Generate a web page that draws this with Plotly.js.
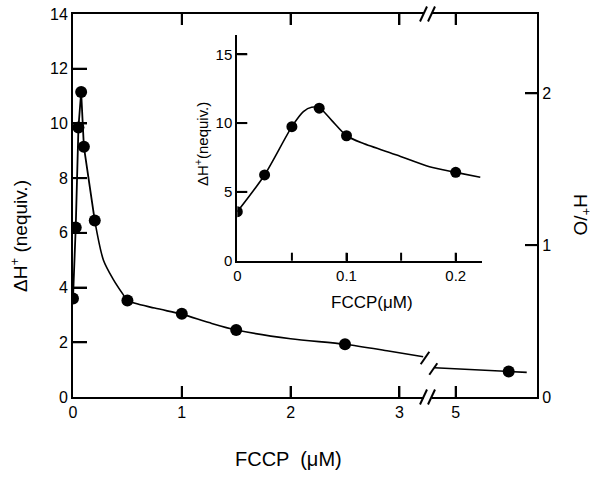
<!DOCTYPE html>
<html><head><meta charset="utf-8">
<script src="https://cdn.plot.ly/plotly-3.0.1.min.js"></script>
<style>html,body{margin:0;padding:0;background:#fff}#chart{width:593px;height:478px}</style>
</head><body><div id="chart"></div>
<script>
// ---- data ----
const fccp     = [0, 0.025, 0.05, 0.075, 0.1, 0.2, 0.5, 1.0, 1.5, 2.5];
const dH       = [3.6, 6.2, 9.85, 11.15, 9.15, 6.45, 3.53, 3.04, 2.45, 1.93];
const fccpHigh = [5.5];
const dHHigh   = [0.93];
// hand-drawn curve of the main panel
const steepX = [0, 0.025, 0.05, 0.075, 0.1, 0.2];
const steepY = [3.6, 6.2, 9.85, 11.15, 9.15, 6.45];
const tailX  = [0.2, 0.28, 0.37, 0.46, 0.5, 0.75, 1.0, 1.25, 1.5, 2.0, 2.5, 2.9, 3.22];
const tailY  = [6.45, 5.0, 4.3, 3.75, 3.53, 3.25, 3.03, 2.72, 2.45, 2.13, 1.93, 1.68, 1.47];
const highX  = [4.8, 5.5, 5.67];
const highY  = [1.07, 0.93, 0.9];
// inset
const insetX = [0, 0.025, 0.05, 0.075, 0.1, 0.2];
const insetY = [3.56, 6.23, 9.74, 11.08, 9.08, 6.42];
const insetCurveX = [0, 0.025, 0.05, 0.0605, 0.068, 0.076, 0.0864, 0.1, 0.115, 0.146, 0.176, 0.2, 0.2225];
const insetCurveY = [3.56, 6.23, 9.74, 10.83, 11.15, 11.05, 10.2, 9.08, 8.53, 7.68, 6.83, 6.42, 6.06];
// ticks
const mainXTicks = [0, 1, 2, 3];
const highXTicks = [5];
const mainYTicks = [0, 2, 4, 6, 8, 10, 12, 14];
const ratioTicks = [0, 1, 2];
const insetXTicks = [0, 0.1, 0.2];
const insetXMinor = [0.05, 0.15];
const insetYTicks = [0, 5, 10, 15];

// ---- layout geometry ----
const W = 593, H = 478, L = 73, R = 56, T = 14, B = 81;
const pw = W - L - R, ph = H - T - B;
const px = v => (v - L) / pw;
const py = v => (H - B - v) / ph;

const FONT = 'Liberation Sans, Arial, sans-serif';
const black = '#000000';

const traces = [
  {x: steepX, y: steepY, xaxis: 'x', yaxis: 'y', mode: 'lines', line: {color: black, width: 1.8}},
  {x: tailX, y: tailY, xaxis: 'x', yaxis: 'y', mode: 'lines', line: {color: black, width: 1.6, shape: 'spline', smoothing: 0.8}},
  {x: fccp, y: dH, xaxis: 'x', yaxis: 'y', mode: 'markers', marker: {color: black, size: 12}},
  {x: highX, y: highY, xaxis: 'x2', yaxis: 'y', mode: 'lines', line: {color: black, width: 1.6}},
  {x: fccpHigh, y: dHHigh, xaxis: 'x2', yaxis: 'y', mode: 'markers', marker: {color: black, size: 12}},
  {x: [], y: [], xaxis: 'x2', yaxis: 'y2', mode: 'markers'},
  {x: insetCurveX, y: insetCurveY, xaxis: 'x3', yaxis: 'y3', mode: 'lines', line: {color: black, width: 1.6, shape: 'spline', smoothing: 0.7}},
  {x: insetX, y: insetY, xaxis: 'x3', yaxis: 'y3', mode: 'markers', marker: {color: black, size: 11}}
];

function ax(extra) {
  return Object.assign({showgrid: false, zeroline: false, showline: true, linecolor: black, linewidth: 2,
    ticks: 'inside', tickcolor: black, tickwidth: 2,
    tickfont: {family: FONT, size: 16, color: black}}, extra);
}
const smallTick = {family: FONT, size: 15, color: black};

const xLeftEnd = 423.5, xRightStart = 431.5;
const insL = 237.3, insR = 481.7, insT = 35, insB = 260.7;
const xDom = [0, px(xLeftEnd)], xRange = [0, (xLeftEnd - L) / 108.8];
const x2Dom = [px(xRightStart), 1], x2Range = [5 - (455.7 - xRightStart) / 106, 5 + (537 - 455.7) / 106];
const yDom = [0, 1], yRange = [0, 14];
const y2Range = [0, 2.522];
const x3Dom = [px(insL), px(insR)], x3Range = [0, 0.2238];
const y3Dom = [py(insB), py(insT)], y3Range = [0, 16.4];

const layout = {
  width: W, height: H, margin: {l: L, r: R, t: T, b: B}, showlegend: false,
  paper_bgcolor: '#ffffff', plot_bgcolor: 'rgba(0,0,0,0)',
  font: {family: FONT, color: black},
  xaxis: ax({domain: xDom, range: xRange, anchor: 'y', tickvals: mainXTicks, ticklen: 11, mirror: 'ticks'}),
  xaxis2: ax({domain: x2Dom, range: x2Range, anchor: 'y', tickvals: highXTicks, ticklen: 11, mirror: 'ticks'}),
  yaxis: ax({domain: yDom, range: yRange, anchor: 'x', tickvals: mainYTicks, ticklen: 14}),
  yaxis2: ax({range: y2Range, overlaying: 'y', side: 'right', anchor: 'x2', tickvals: ratioTicks, ticklen: 12}),
  xaxis3: ax({domain: x3Dom, range: x3Range, anchor: 'y3', tickvals: insetXTicks, ticklen: 8, tickfont: smallTick}),
  yaxis3: ax({domain: y3Dom, range: y3Range, anchor: 'x3', tickvals: insetYTicks, ticklen: 10, tickfont: smallTick}),
  annotations: [
    {text: 'ΔH<sup>+</sup> (nequiv.)', xref: 'paper', yref: 'paper', x: px(19), y: py(236), textangle: -90, showarrow: false,
      xanchor: 'center', yanchor: 'middle', font: {family: FONT, size: 19, color: black}},
    {text: 'FCCP  (μM)', xref: 'paper', yref: 'paper', x: px(288), y: py(459), showarrow: false,
      xanchor: 'center', yanchor: 'middle', font: {family: FONT, size: 20, color: black}},
    {text: 'H<sup>+</sup>/O', xref: 'paper', yref: 'paper', x: px(582), y: py(215), textangle: 90, showarrow: false,
      xanchor: 'center', yanchor: 'middle', font: {family: FONT, size: 19, color: black}},
    {text: 'ΔH<sup>+</sup>(nequiv.)', xref: 'paper', yref: 'paper', x: px(201), y: py(144), textangle: -90, showarrow: false,
      xanchor: 'center', yanchor: 'middle', font: {family: FONT, size: 15, color: black}},
    {text: 'FCCP(μM)', xref: 'paper', yref: 'paper', x: px(372), y: py(302), showarrow: false,
      xanchor: 'center', yanchor: 'middle', font: {family: FONT, size: 17, color: black}}
  ],
  shapes: []
};

// linear scale: axis value -> paper fraction, from an axis' domain and range
const scale = (dom, rng) => v => dom[0] + (v - rng[0]) / (rng[1] - rng[0]) * (dom[1] - dom[0]);
const sx = scale(xDom, xRange), sx2 = scale(x2Dom, x2Range), sy = scale(yDom, yRange), sy2 = scale(yDom, y2Range);
const sx3 = scale(x3Dom, x3Range), sy3 = scale(y3Dom, y3Range);
const tickLine = {color: black, width: 2};
const seg = (x0, y0, x1, y1) => ({type: 'line', xref: 'paper', yref: 'paper', x0: x0, y0: y0, x1: x1, y1: y1, line: tickLine});

// tick marks (inside)
mainYTicks.slice(1, -1).forEach(v => layout.shapes.push(seg(0, sy(v), 14 / pw, sy(v))));
mainXTicks.slice(1).forEach(v => {
  layout.shapes.push(seg(sx(v), 0, sx(v), 11 / ph));
  layout.shapes.push(seg(sx(v), 1, sx(v), 1 - 11 / ph));
});
highXTicks.forEach(v => {
  layout.shapes.push(seg(sx2(v), 0, sx2(v), 11 / ph));
  layout.shapes.push(seg(sx2(v), 1, sx2(v), 1 - 11 / ph));
});
ratioTicks.slice(1).forEach(v => layout.shapes.push(seg(1, sy2(v), 1 - 12 / pw, sy2(v))));
insetXTicks.concat(insetXMinor).filter(v => v > 0).forEach(v => layout.shapes.push(seg(sx3(v), y3Dom[0], sx3(v), y3Dom[0] + 8 / ph)));
insetYTicks.slice(1).forEach(v => layout.shapes.push(seg(x3Dom[0], sy3(v), x3Dom[0] + 10 / pw, sy3(v))));

// axis-break marks (//) on top and bottom frame lines and on the curve
function slash(cx, cy, dx, dy) {
  return {type: 'line', xref: 'paper', yref: 'paper', x0: px(cx - dx), y0: py(cy + dy), x1: px(cx + dx), y1: py(cy - dy),
    line: {color: black, width: 2}};
}
[H - B, T].forEach(yy => {
  layout.shapes.push(slash(xLeftEnd, yy, 3.5, 7.5));
  layout.shapes.push(slash(xRightStart, yy, 3.5, 7.5));
});
layout.shapes.push(slash(425, 358, 4.3, 6.2));
layout.shapes.push(slash(433.3, 369, 4, 5.8));

Plotly.newPlot('chart', traces, layout, {displayModeBar: false, staticPlot: true});
</script>
</body></html>
